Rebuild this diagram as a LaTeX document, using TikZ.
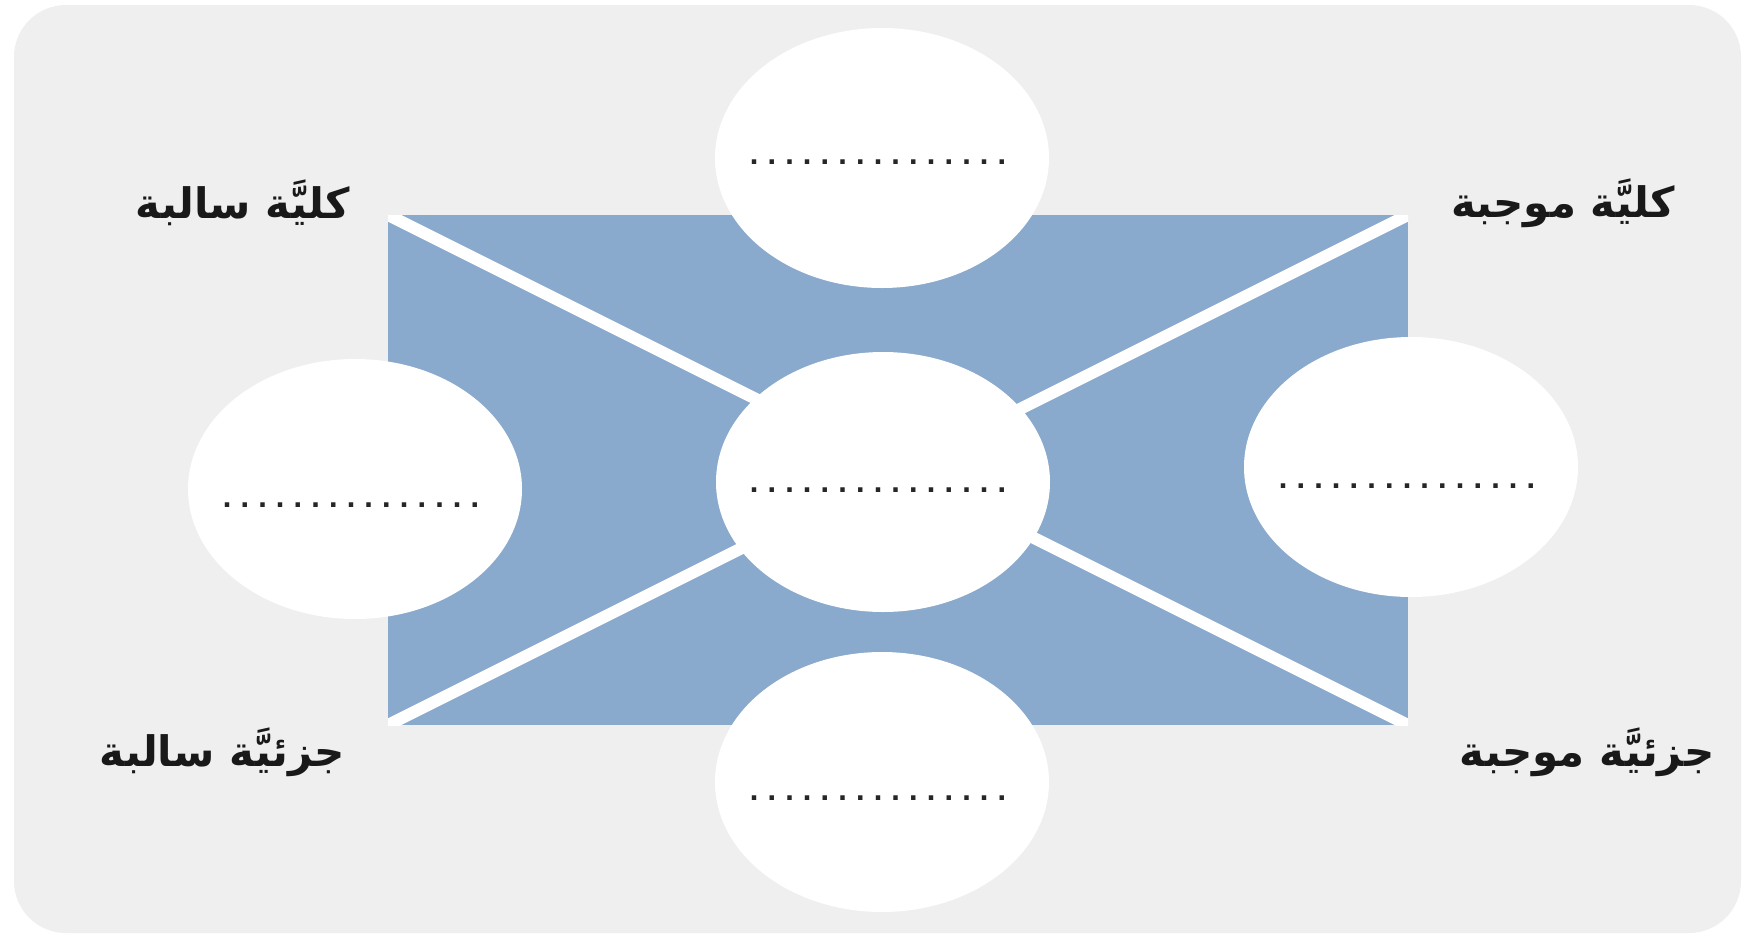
\documentclass[tikz,border=0pt]{standalone}
\usepackage{fontspec}
\usetikzlibrary{shapes.geometric}
\TeXXeTstate=1
\newfontfamily\arabicfont[Script=Arabic]{DejaVu Sans}
\newfontfamily\dotfont{DejaVu Sans}
\definecolor{bggrey}{HTML}{EFEFEF}
\definecolor{panelblue}{HTML}{89A9CD}
\newcommand\blankdots{\foreach\k in {1,...,15}{\makebox[17.7pt]{.}}}
\tikzset{
  bubble/.style={ellipse, fill=white, draw=none, minimum width=334pt, minimum height=260pt, inner sep=0pt},
  dotrow/.style={inner sep=0pt, font=\dotfont\fontsize{25}{25}\selectfont\bfseries, text=black!85},
  cornerlabel/.style={inner sep=0pt, font=\arabicfont\fontsize{42}{48}\selectfont\bfseries, text=black!90},
  cross/.style={draw=white, line width=12pt}
}
\begin{document}
\begin{tikzpicture}[x=1pt, y=-1pt]
\useasboundingbox (0,0) rectangle (1749,938);
\fill[white] (0,0) rectangle (1749,938);
\fill[bggrey, rounded corners=52pt] (14,5) rectangle (1741,933);
% blue panel
\coordinate (tl) at (388,215);
\coordinate (tr) at (1408,215);
\coordinate (br) at (1408,725);
\coordinate (bl) at (388,725);
\fill[panelblue] (tl) rectangle (br);
\begin{scope}
\clip (tl) rectangle (br);
\draw[cross] (tl) -- (br);
\draw[cross] (tr) -- (bl);
\end{scope}
% bubbles
\node[bubble] (top) at (882,158) {};
\node[bubble] (mid) at (883,482) {};
\node[bubble] (left) at (355,489) {};
\node[bubble] (right) at (1411,467) {};
\node[bubble] (bottom) at (882,782) {};
% dotted blanks
\node[dotrow] (dtop) at (878,162) {\blankdots};
\node[dotrow] (dmid) at (878,490) {\blankdots};
\node[dotrow] (dleft) at (351,505) {\blankdots};
\node[dotrow] (dright) at (1407,486) {\blankdots};
\node[dotrow] (dbottom) at (878,798) {\blankdots};
% corner labels
\node[cornerlabel] (ls) at (243,203) {\beginR كليَّة سالبة\endR};
\node[cornerlabel] (lm) at (1563,203) {\beginR كليَّة موجبة\endR};
\node[cornerlabel] (ps) at (222,752) {\beginR جزئيَّة سالبة\endR};
\node[cornerlabel] (pm) at (1587,752) {\beginR جزئيَّة موجبة\endR};
\end{tikzpicture}
\end{document}
